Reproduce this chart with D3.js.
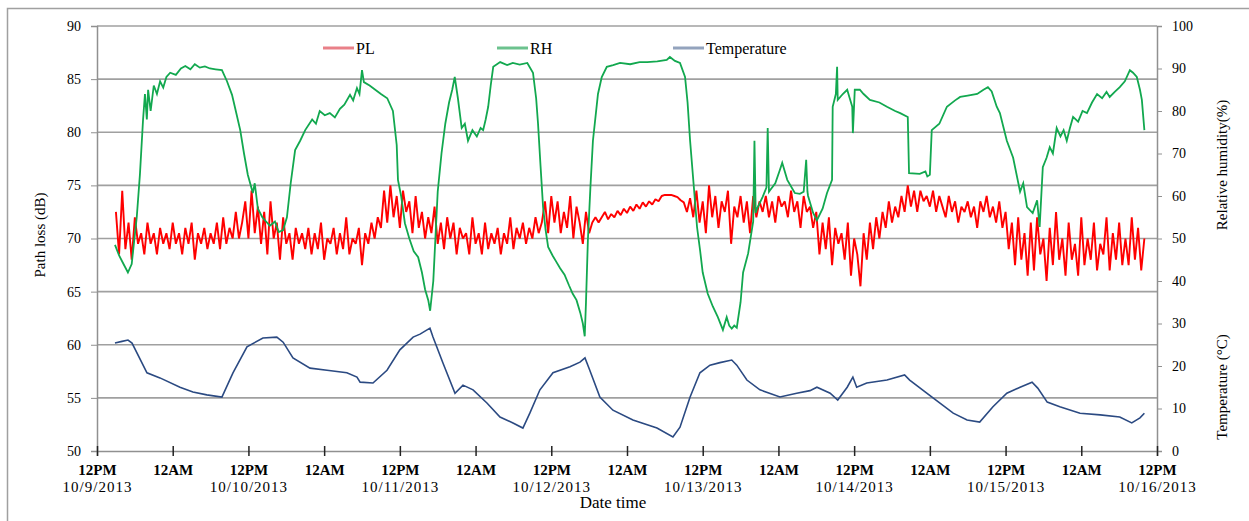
<!DOCTYPE html>
<html>
<head>
<meta charset="utf-8">
<script src="https://cdnjs.cloudflare.com/ajax/libs/d3/7.8.5/d3.min.js"></script>
<style>
body { margin: 0; background: #fff; }
text { font-family: "Liberation Serif", "Times New Roman", serif; fill: #000; }
</style>
</head>
<body>
<svg width="1249" height="521"></svg>
<script>
//// PATH LOSS / RH / TEMPERATURE TIME SERIES ////

// hours counted from 12PM 10/9/2013
var xTickHours = [0, 12, 24, 36, 48, 60, 72, 84, 96, 108, 120, 132, 144, 156, 168];
var xTickDates = ["10/9/2013", "10/10/2013", "10/11/2013", "10/12/2013",
                  "10/13/2013", "10/14/2013", "10/15/2013", "10/16/2013"];
var leftTicks = [50, 55, 60, 65, 70, 75, 80, 85, 90];
var rightTicks = [0, 10, 20, 30, 40, 50, 60, 70, 80, 90, 100];
var seriesNames = ["PL", "RH", "Temperature"];

// path loss (dB), one reading every half hour starting at hour 3
var plStart = 3, plStep = 0.5;
var plValues = [
    72.5, 68.5, 74.5, 69, 71.5, 68, 72, 69.5, 70.5, 68.5, 71.5, 69.5, 70.5, 68.5, 71, 69.5, 70.5, 69, 71.5, 69.5,
    70.5, 68.5, 71, 69.5, 71.5, 68, 70.5, 69.5, 71, 69, 70.5, 69.5, 71.5, 69, 72, 69.5, 71, 70, 72.5, 70,
    71.5, 73.5, 70, 74.5, 70.5, 73, 69.5, 72.5, 68.5, 73.5, 70, 71.5, 68, 72, 69.5, 70.5, 68, 71, 69.5, 70.5,
    69, 71, 68.5, 70.5, 69, 71.5, 68, 70, 69.5, 71, 68.5, 70.5, 69, 72, 68.5, 70, 69.5, 71, 67.5, 70.5,
    69.5, 71.5, 70, 72, 71, 74.5, 71.5, 75, 72, 74, 71, 74.5, 72.5, 73.5, 70.5, 74, 71, 72.5, 70, 72,
    70.5, 73, 69.5, 71.5, 69, 72, 70, 71.5, 68.5, 71, 70, 70.5, 68.5, 72, 69.5, 70.5, 68.5, 71.5, 69, 70.5,
    69.5, 71, 68.5, 70.5, 69.5, 72, 69, 71, 70, 71.5, 69.5, 71, 70, 72, 70.5, 71.5, 73.5, 70.5, 74, 71.5,
    73.5, 70.5, 72.5, 71, 74, 70, 73, 71.5, 69.5, 72.5, 70.5, 71.5, 72, 71.5, 72, 72.5, 71.8, 72.3, 72, 72.6,
    72.2, 72.8, 72.4, 73, 72.6, 73.2, 72.8, 73.4, 73, 73.5, 73.2, 73.7, 73.5, 74, 74.1, 74.1, 74.1, 74, 73.9, 73.6,
    73.4, 72.5, 73.8, 72, 74.5, 71.5, 73.5, 70.5, 75, 72, 74, 71, 73.5, 72.5, 74.5, 69.5, 73, 72, 74, 71.5,
    73.5, 70.5, 74, 72, 73.5, 72.5, 74, 72, 73.5, 71.5, 74, 73, 73.5, 72, 74.5, 72.5, 73.5, 71, 74, 72.5,
    73, 71, 72.5, 68.5, 71.5, 69, 72, 67.5, 71, 69.5, 70.5, 68, 71.5, 66.5, 70, 68.5, 65.5, 70.5, 68, 71.5,
    69, 72, 70, 72.5, 71, 73.5, 71.5, 73, 72, 74, 72.5, 75, 73, 74.5, 72.5, 74.5, 73.5, 74, 73, 74.5,
    72.5, 74, 73, 72, 74, 72.5, 73.5, 71.5, 73, 72.5, 73.5, 72, 73, 71, 73.5, 72.5, 74, 72, 73, 71.5,
    73.5, 71, 72.5, 69, 71.5, 67.5, 72, 68, 70.5, 66.5, 71.5, 67, 72, 68.5, 70, 66, 71, 67.5, 72.5, 68,
    70, 66.5, 71.5, 68, 69.5, 66.5, 72, 67.5, 70, 68, 71.5, 67, 69.5, 68.5, 72, 67, 70.5, 68, 71.5, 67.5,
    70, 67.5, 72, 68, 71, 67, 70
];

// relative humidity (%), [hour, value]
var rhValues = [
    [2.85,48.5],[3.5,46],[4.2,44],[4.9,42],[5.5,44],[6.3,55],[6.8,65],[7.3,78],[7.6,84],[7.9,78],
    [8.1,85],[8.5,80],[9,86],[9.5,84],[10,87],[10.5,85.5],[11,88],[11.6,89],[12.5,88.5],[13.3,90],
    [14,90.6],[14.8,89.8],[15.5,91],[16.3,90.2],[17.1,90.5],[17.9,90],[18.8,89.8],[19.8,89.6],[20.6,87],[21.4,83.8],
    [22,80],[22.7,75.5],[23.3,70],[23.9,65],[24.7,60.7],[25,63],[25.5,57],[26.2,55],[27.4,53],[28.2,54],
    [28.8,51.5],[29.5,52],[30.1,55],[30.7,63],[31.4,70.8],[32.2,73],[33,75.5],[34.1,78],[34.7,77],[35.3,80],
    [36.1,79],[36.9,79.5],[37.7,78.5],[38.5,80.5],[39.2,81.5],[40.1,83.8],[40.6,82.5],[41.2,85.4],[41.6,84],[42,89.6],
    [42.3,86.8],[43.2,86],[44.1,85],[45,84],[46,83],[46.9,80],[47.5,72],[47.7,63.8],[48.2,60],[48.8,53.6],
    [49.5,50],[50.2,47],[50.9,45.6],[51.5,42],[52,38],[52.5,35.5],[52.8,33],[53.3,40],[54,61],[54.6,70],
    [55.2,77],[55.8,82],[56.3,85],[56.7,88],[57.2,83],[57.8,76],[58.3,77],[58.8,73],[59.5,75.5],[60.2,74],
    [60.8,76],[61.2,75.5],[61.6,78],[62,81],[62.4,86],[62.8,90.4],[63.9,91.5],[65,90.8],[65.9,91.3],[67,90.9],
    [68.2,91.3],[69.1,89],[69.6,83],[69.9,77],[70.3,67],[70.7,57.4],[71.1,52],[71.5,48],[72.2,46],[72.8,44.5],
    [73.4,43],[74.1,41.5],[74.8,39],[75.4,37],[76,35.5],[76.6,32.5],[77,30],[77.3,27],[77.5,35],[77.8,49.6],
    [78.2,62],[78.6,73],[79.4,84],[80,88],[80.8,90.4],[81.8,90.8],[82.9,91.3],[84.5,91],[86,91.5],[87.2,91.5],
    [88.8,91.7],[90.3,92],[90.8,92.7],[91.6,91.8],[92.4,91.3],[93.2,88],[93.6,82],[94,73],[94.6,62],[95.1,52.7],
    [95.6,47],[96,42],[96.8,37],[97.6,34],[98.4,31.5],[99.2,28.5],[99.8,31.5],[100.2,29.5],[100.6,28.8],[101,29.5],
    [101.4,29],[102,35],[102.4,42],[103.2,46.5],[104,54],[104.2,73],[104.4,56],[104.6,57],[105.5,59.8],[106.1,62],
    [106.3,76],[106.5,61],[106.7,61.4],[107.5,63],[108.2,66],[108.6,67.8],[109.4,63.8],[110.6,60.7],[111.4,60.5],[112,61],
    [112.4,68.5],[112.6,61],[112.7,60],[113.5,56],[114.1,54.3],[115,57],[115.7,60.7],[116.5,63.8],[116.6,81],[117.1,84],
    [117.3,90.4],[117.4,82.6],[118.2,84],[118.9,85],[119.3,83],[119.7,81],[119.8,74.8],[120.1,85],[120.9,85],[121.5,84],
    [122.5,82.6],[124,82],[125.2,81],[126.5,80],[127.3,79.5],[128.5,78.6],[128.7,65.4],[130.4,65.2],[131.3,65.8],[131.6,64.6],
    [132,65],[132.3,75.5],[133.5,77],[134.7,81],[136,82.5],[136.8,83.3],[138,83.6],[139.5,84],[140.5,85],[141.2,85.6],
    [141.8,84.6],[142.6,81],[143.1,79.5],[144.2,73],[145.2,69],[146.3,61],[146.8,63],[147.4,57.4],[148.3,56],[149,59],
    [149.4,52.7],[149.9,66.8],[150.5,69],[151,71.5],[151.5,70],[152.1,76],[152.7,74],[153.2,75.5],[153.7,73],[154.2,76],
    [154.7,78.6],[155.5,77.5],[156.2,80],[156.9,79.5],[157.7,82],[158.5,84],[159.3,83],[160,84.5],[160.5,83.3],[161.3,84.5],
    [162.1,85.6],[162.9,87],[163.7,89.6],[164.2,89],[164.8,88],[165.3,85],[165.6,82.6],[166,75.5]
];

// temperature (°C), [hour, value]
var tempValues = [
    [2.85,25.4],[3.96,25.8],[4.91,26.1],[5.55,25.4],[7.92,18.4],[9.98,17.2],[13.15,15],[15.2,13.9],[17.4,13.2],[19.8,12.7],
    [21.55,18.4],[23.77,24.5],[26.3,26.6],[28.5,26.8],[29.5,25.6],[31.06,21.9],[33.76,19.5],[36.45,19],[39.6,18.4],[41.2,17.4],
    [41.7,16.2],[43.74,16],[45.96,19],[48,23.8],[50.1,26.8],[51.2,27.5],[52.77,28.9],[53.25,26.8],[54.83,20.7],[56.74,13.6],
    [58,15.5],[59.6,14.4],[61.8,11.3],[63.87,8],[65.93,6.6],[67.5,5.4],[68.6,8.9],[70.2,14.4],[72.27,18.4],[74.96,19.8],
    [76.55,20.9],[77.34,21.9],[78.1,19],[79.7,12.7],[81.77,9.6],[84.94,7.3],[88.75,5.4],[91.28,3.3],[92.4,5.6],[94,12.7],
    [95.56,18.4],[97.15,20.2],[98.73,20.8],[100.6,21.4],[101.4,20.2],[103,16.7],[105.07,14.4],[108.24,12.7],[110.9,13.6],[113,14.2],
    [114.1,15],[116.2,13.6],[117.4,12],[118.9,15],[119.8,17.4],[120.4,15],[122,16],[125.2,16.7],[128,17.9],[128.8,16.7],
    [132.5,12.5],[135.7,8.9],[137.9,7.3],[139.9,6.8],[142,10.4],[144.2,13.6],[146.3,15],[148.2,16.2],[149.1,14.8],[150.6,11.5],
    [152.6,10.4],[155.8,8.9],[159,8.5],[162.1,8],[164,6.6],[165.3,7.8],[166,8.9]
];

var colors = { PL: "#ff0000", RH: "#12a84f", Temperature: "#2b4a82" };
var legendColors = { PL: "#e98088", RH: "#6cc28e", Temperature: "#93a3bd" };

var svg = d3.select("svg"),
    margin = { top: 26, right: 92, bottom: 70, left: 97 },
    width = +svg.attr("width") - margin.left - margin.right,
    height = +svg.attr("height") - margin.top - margin.bottom;

// outer frame
svg.append("rect")
    .attr("x", 7.5).attr("y", 8.5)
    .attr("width", 1260).attr("height", 530)
    .attr("fill", "none")
    .attr("stroke", "#a0a0a0")
    .attr("stroke-width", 1.5);

var x = d3.scaleLinear().domain([0, 168]).range([0, width]),
    yL = d3.scaleLinear().domain([50, 90]).range([height, 0]),
    yR = d3.scaleLinear().domain([0, 100]).range([height, 0]);

var g = svg.append("g")
    .attr("transform", "translate(" + margin.left + "," + margin.top + ")");

// horizontal gridlines at left ticks
g.append("g")
    .selectAll("line")
    .data(leftTicks.slice(1))
    .enter().append("line")
    .attr("x1", 0).attr("x2", width)
    .attr("y1", function (d) { return yL(d); })
    .attr("y2", function (d) { return yL(d); })
    .attr("stroke", "#a0a0a0")
    .attr("stroke-width", 1.6);

// left axis
var axL = g.append("g")
    .call(d3.axisLeft(yL).tickValues(leftTicks).tickSize(6).tickPadding(10));
axL.select(".domain").attr("stroke", "#909090").attr("stroke-width", 1.5);
axL.selectAll(".tick line").attr("stroke", "#909090");
axL.selectAll(".tick text").style("font-size", "14px").attr("fill", "#000");

// right axis
var axR = g.append("g")
    .attr("transform", "translate(" + width + ",0)")
    .call(d3.axisRight(yR).tickValues(rightTicks).tickSize(5).tickPadding(10));
axR.select(".domain").attr("stroke", "#909090").attr("stroke-width", 1.5);
axR.selectAll(".tick line").attr("stroke", "#909090");
axR.selectAll(".tick text").style("font-size", "14px").attr("fill", "#000");

// bottom axis with crossing ticks and two-line labels
var axB = g.append("g")
    .attr("transform", "translate(0," + height + ")")
    .call(d3.axisBottom(x).tickValues(xTickHours).tickSize(5).tickFormat(""));
axB.select(".domain").attr("stroke", "#909090").attr("stroke-width", 1.5);
axB.selectAll(".tick line").attr("y1", -5).attr("stroke", "#222").attr("stroke-width", 1.5);
axB.selectAll(".tick").each(function (d, i) {
    var t = d3.select(this).append("text")
        .attr("text-anchor", "middle")
        .style("font-size", "15px")
        .style("font-weight", "bold");
    t.append("tspan").attr("x", 0).attr("y", 24)
        .text(i % 2 === 0 ? "12PM" : "12AM");
    if (i % 2 === 0) {
        t.append("tspan").attr("x", 0).attr("y", 41)
            .style("font-weight", "normal")
            .style("letter-spacing", "1px")
            .text(xTickDates[i / 2]);
    }
});

// series lines
var lineL = d3.line()
    .x(function (d) { return x(d[0]); })
    .y(function (d) { return yL(d[1]); });
var lineR = d3.line()
    .x(function (d) { return x(d[0]); })
    .y(function (d) { return yR(d[1]); });

var plData = plValues.map(function (v, i) { return [plStart + i * plStep, v]; });

g.append("path").datum(plData)
    .attr("fill", "none").attr("stroke", colors.PL).attr("stroke-width", 1.9)
    .attr("stroke-linejoin", "bevel")
    .attr("d", lineL);
g.append("path").datum(rhValues)
    .attr("fill", "none").attr("stroke", colors.RH).attr("stroke-width", 1.8)
    .attr("d", lineR);
g.append("path").datum(tempValues)
    .attr("fill", "none").attr("stroke", colors.Temperature).attr("stroke-width", 1.6)
    .attr("d", lineR);

// legend
var legendX = [226, 400, 576];
var leg = g.selectAll(".legend")
    .data(seriesNames)
    .enter().append("g")
    .attr("class", "legend")
    .attr("transform", function (d, i) { return "translate(" + legendX[i] + ",22)"; });
leg.append("line")
    .attr("x1", 0).attr("x2", 31)
    .attr("stroke", function (d) { return legendColors[d]; })
    .attr("stroke-width", 3);
leg.append("text")
    .attr("x", 33).attr("y", 6)
    .style("font-size", "16px")
    .text(function (d) { return d; });

// axis titles
svg.append("text")
    .attr("transform", "translate(45,235) rotate(-90)")
    .attr("text-anchor", "middle")
    .style("font-size", "15px")
    .text("Path loss (dB)");
svg.append("text")
    .attr("transform", "translate(1227,165) rotate(-90)")
    .attr("text-anchor", "middle")
    .style("font-size", "15px")
    .text("Relative humidity(%)");
svg.append("text")
    .attr("transform", "translate(1227,387) rotate(-90)")
    .attr("text-anchor", "middle")
    .style("font-size", "15px")
    .text("Temperature (°C)");
svg.append("text")
    .attr("x", 613).attr("y", 508)
    .attr("text-anchor", "middle")
    .style("font-size", "17px")
    .text("Date time");
</script>
</body>
</html>
